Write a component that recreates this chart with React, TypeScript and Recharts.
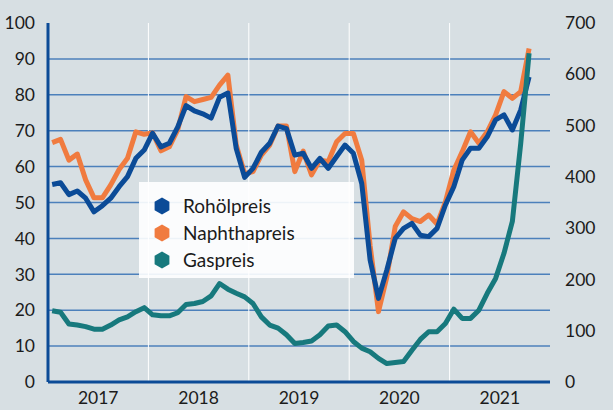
import { LineChart, Line, XAxis, YAxis, ReferenceLine, Legend } from 'recharts';

// Monatswerte Jan 2017 – Okt 2021
const oil = [
  55, 55.5, 52.2, 53.2, 51.2, 47.4, 49.1, 51.2, 54.4, 57.2, 62.3, 64.6,
  69.3, 65.5, 66.5, 71, 77, 75.5, 74.7, 73.5, 79.3, 80.5, 65, 57,
  59.5, 64, 66.5, 71.3, 70.6, 63.2, 63.7, 59.5, 62.3, 59.5, 62.8, 66,
  63.7, 55.3, 34, 23.3, 31.2, 40, 42.8, 44.2, 40.9, 40.5, 42.8, 49.3,
  54.4, 61.8, 65.1, 65.1, 68.3, 73, 74.4, 70.2, 75.8, 85,
];
const naphtha = [
  66.7, 67.6, 61.8, 63.5, 56.3, 51.3, 51.3, 54.9, 59.2, 62.3, 69.7, 69,
  69.4, 64.4, 65.5, 70.2, 79.5, 78.1, 78.7, 79.3, 82.7, 85.5, 66, 58,
  58.6, 63.2, 66, 71.3, 71.3, 58.6, 64.3, 57.7, 61.8, 61.4, 66.9, 69.2,
  69.2, 61.8, 38, 19.6, 29.3, 43.3, 47.4, 45.5, 44.7, 46.5, 44, 50.2,
  59, 64.1, 69.7, 66.5, 69.7, 74.4, 80.9, 79, 80.9, 92.9,
];
const gas = [
  139, 136, 113, 111, 108, 103, 103, 111, 121, 127, 137, 145,
  131, 129, 129, 135, 151, 153, 157, 168, 192, 181, 173, 166,
  153, 127, 111, 105, 92, 75, 77, 80, 92, 109, 111, 98,
  79, 66, 59, 46, 36, 38, 40, 62, 83, 98, 98, 114,
  142, 124, 124, 140, 173, 202, 251, 313, 465, 641,
];

const years = ['2017', '2018', '2019', '2020', '2021'];
const leftTicks = [0, 10, 20, 30, 40, 50, 60, 70, 80, 90, 100];
const rightTicks = [0, 100, 200, 300, 400, 500, 600, 700];
const yearTicks = [6, 18, 30, 42, 54];
const yearBreaks = [12, 24, 36, 48];

const series = [
  { key: 'oil', name: 'Rohölpreis', color: '#0b4b97', axis: 'left' },
  { key: 'naphtha', name: 'Naphthapreis', color: '#f07b3f', axis: 'left' },
  { key: 'gas', name: 'Gaspreis', color: '#17797d', axis: 'right' },
];

const data = oil.map((v, i) => ({ t: i + 0.5, oil: v, naphtha: naphtha[i], gas: gas[i] }));

const tickStyle = { fill: '#1b1b1b', fontSize: 17.5, fontFamily: 'Lato' };

function Hexagon({ color }: { color: string }) {
  return (
    <svg width={16} height={18} style={{ marginRight: 13, flex: 'none' }}>
      <polygon points="8,0.5 15.4,4.8 15.4,13.2 8,17.5 0.6,13.2 0.6,4.8" fill={color} />
    </svg>
  );
}

function LegendBox() {
  return (
    <div
      style={{
        width: 215,
        height: 96,
        boxSizing: 'border-box',
        background: 'rgba(255,255,255,0.9)',
        padding: '10px 0 0 15px',
        fontFamily: 'Lato',
        fontSize: 19,
        color: '#1b1b1b',
      }}
    >
      {series.map(s => (
        <div key={s.key} style={{ display: 'flex', alignItems: 'center', height: 27 }}>
          <Hexagon color={s.color} />
          <span>{s.name}</span>
        </div>
      ))}
    </div>
  );
}

export default function App() {
  return (
    <div style={{ width: 613, height: 410, background: '#d7dfe3', position: 'relative' }}>
      <style>{'body{margin:0}'}</style>
      <LineChart width={613} height={410} data={data} margin={{ top: 23, right: 0, bottom: 0, left: 0 }}>
        <XAxis
          dataKey="t"
          type="number"
          domain={[0, 60]}
          ticks={yearTicks}
          tickFormatter={(v: number) => years[(v - 6) / 12]}
          tick={tickStyle}
          tickLine={false}
          tickSize={0}
          tickMargin={10}
          height={28}
          axisLine={{ stroke: '#0b4b97', strokeWidth: 3 }}
        />
        <YAxis
          yAxisId="left"
          domain={[0, 100]}
          ticks={leftTicks}
          width={48}
          tick={tickStyle}
          tickLine={false}
          tickSize={0}
          tickMargin={13}
          axisLine={{ stroke: '#0b4b97', strokeWidth: 3 }}
        />
        <YAxis
          yAxisId="right"
          orientation="right"
          domain={[0, 700]}
          ticks={rightTicks}
          width={63}
          tick={tickStyle}
          tickLine={false}
          tickSize={0}
          tickMargin={15}
          axisLine={false}
        />
        {leftTicks.filter(v => v > 0 && v < 100).map(v => (
          <ReferenceLine key={'h' + v} yAxisId="left" y={v} stroke="#4c80bb" strokeWidth={1.5} />
        ))}
        {yearBreaks.map(v => (
          <ReferenceLine key={'v' + v} yAxisId="left" x={v} stroke="#ffffff" strokeWidth={1} />
        ))}
        <Legend
          layout="horizontal"
          verticalAlign="middle"
          align="center"
          content={() => <LegendBox />}
          wrapperStyle={{ position: 'absolute', left: 139, top: 182, width: 215, height: 96 }}
        />
        <Line yAxisId="left" dataKey="naphtha" stroke="#f07b3f" strokeWidth={5} dot={false} strokeLinejoin="round" isAnimationActive={false} />
        <Line yAxisId="left" dataKey="oil" stroke="#0b4b97" strokeWidth={5} dot={false} strokeLinejoin="round" isAnimationActive={false} />
        <Line yAxisId="right" dataKey="gas" stroke="#17797d" strokeWidth={5} dot={false} strokeLinejoin="round" isAnimationActive={false} />
      </LineChart>
    </div>
  );
}
